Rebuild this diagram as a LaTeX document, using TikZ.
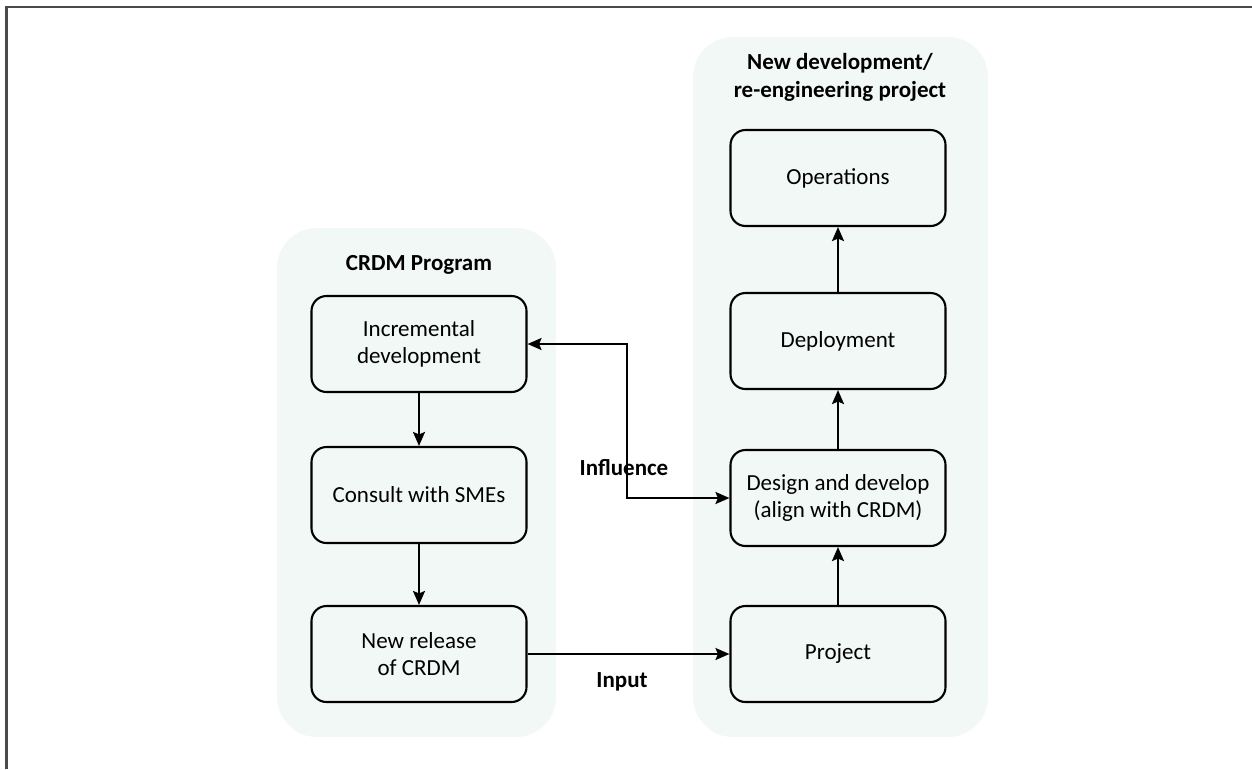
\documentclass[tikz,border=0pt]{standalone}
\usepackage{fontspec}
\setmainfont{Carlito}
\usetikzlibrary{arrows.meta}
\definecolor{panelfill}{HTML}{F2F8F6}
\definecolor{framegray}{HTML}{4A4A4A}
\begin{document}
\begin{tikzpicture}[x=1pt,y=-1pt,
  panel/.style={fill=panelfill,draw=none,rounded corners=40pt},
  stepbox/.style={draw=black,line width=2.1pt,rounded corners=15pt,fill=panelfill,
    minimum width=215pt,minimum height=96pt,align=center,
    font=\fontsize{23}{27}\selectfont,inner sep=0pt},
  title/.style={font=\fontsize{23}{28}\selectfont\bfseries,align=center},
  lbl/.style={font=\fontsize{23}{28}\selectfont\bfseries},
  tip/.tip={Stealth[length=14pt,width=12pt,inset=2.5pt]},
  flow/.style={line width=2.1pt,-tip},
  both/.style={line width=2.1pt,tip-tip}]
\useasboundingbox (0,0) rectangle (1252,769);
\fill[white] (0,0) rectangle (1252,769);
% partial frame: top and left edges
\draw[framegray,line width=2.2pt] (6.5,769) -- (6.5,7) -- (1252,7);

% grouping panels
\fill[panel] (277,228) rectangle (556,737);
\fill[panel] (693,37) rectangle (988,737);

\node[title] (tl) at (419,265) {CRDM Program};
\node[title] (tr) at (840,77) {New development/\\re-engineering project};

% CRDM program steps
\node[stepbox] (inc) at (419,344) {Incremental\\development};
\node[stepbox] (sme) at (419,495) {Consult with SMEs};
\node[stepbox] (rel) at (419,654) {New release\\of CRDM};

% project steps
\node[stepbox] (ops) at (838,178) {Operations};
\node[stepbox] (dep) at (838,341) {Deployment};
\node[stepbox] (dev) at (838,498) {Design and develop\\(align with CRDM)};
\node[stepbox] (prj) at (838,654) {Project};

\draw[flow] (inc) -- (sme);
\draw[flow] (sme) -- (rel);
\draw[flow] (prj) -- (dev);
\draw[flow] (dev) -- (dep);
\draw[flow] (dep) -- (ops);

\coordinate (k1) at (627,344);
\coordinate (k2) at (627,498);
\draw[both] (inc.east) -- (k1) -- (k2) -- (dev.west);
\draw[flow] (rel) -- (prj);

\node[lbl] (infl) at (624,468) {Influence};
\node[lbl] (inp) at (622,682) {Input};
\end{tikzpicture}
\end{document}
